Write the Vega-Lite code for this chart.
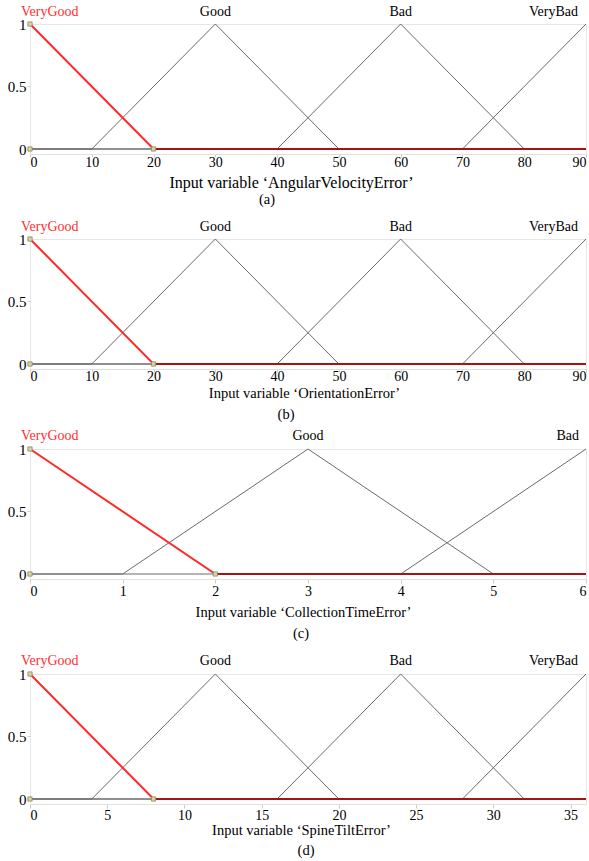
{
  "$schema": "https://vega.github.io/schema/vega-lite/v6.json",
  "padding": {"left": 6, "top": 4, "right": 0, "bottom": 0},
  "background": "white",
  "config": {
    "font": "Liberation Serif",
    "view": {"stroke": "#e6e6e6", "strokeWidth": 1},
    "axis": {"labelFontSize": 14, "titleFontSize": 14.5, "labelColor": "#000", "titleColor": "#000", "titleFontWeight": "normal", "grid": false, "labelFont": "Liberation Serif", "titleFont": "Liberation Serif"},
    "axisY": {"labelFontSize": 15},
    "title": {"font": "Liberation Serif", "fontSize": 14.5, "fontWeight": "normal", "color": "#000", "orient": "bottom", "anchor": "middle", "frame": "group"},
    "text": {"fontSize": 14, "font": "Liberation Serif"}
  },
  "datasets": {
    "mf": [
      {"panel": "a", "mf": "VeryGood", "x": 0, "y": 1}, {"panel": "a", "mf": "VeryGood", "x": 20, "y": 0}, {"panel": "a", "mf": "VeryGood", "x": 90, "y": 0},
      {"panel": "a", "mf": "Good", "x": 0, "y": 0}, {"panel": "a", "mf": "Good", "x": 10, "y": 0}, {"panel": "a", "mf": "Good", "x": 30, "y": 1}, {"panel": "a", "mf": "Good", "x": 50, "y": 0}, {"panel": "a", "mf": "Good", "x": 90, "y": 0},
      {"panel": "a", "mf": "Bad", "x": 0, "y": 0}, {"panel": "a", "mf": "Bad", "x": 40, "y": 0}, {"panel": "a", "mf": "Bad", "x": 60, "y": 1}, {"panel": "a", "mf": "Bad", "x": 80, "y": 0}, {"panel": "a", "mf": "Bad", "x": 90, "y": 0},
      {"panel": "a", "mf": "VeryBad", "x": 0, "y": 0}, {"panel": "a", "mf": "VeryBad", "x": 70, "y": 0}, {"panel": "a", "mf": "VeryBad", "x": 90, "y": 1},
      {"panel": "b", "mf": "VeryGood", "x": 0, "y": 1}, {"panel": "b", "mf": "VeryGood", "x": 20, "y": 0}, {"panel": "b", "mf": "VeryGood", "x": 90, "y": 0},
      {"panel": "b", "mf": "Good", "x": 0, "y": 0}, {"panel": "b", "mf": "Good", "x": 10, "y": 0}, {"panel": "b", "mf": "Good", "x": 30, "y": 1}, {"panel": "b", "mf": "Good", "x": 50, "y": 0}, {"panel": "b", "mf": "Good", "x": 90, "y": 0},
      {"panel": "b", "mf": "Bad", "x": 0, "y": 0}, {"panel": "b", "mf": "Bad", "x": 40, "y": 0}, {"panel": "b", "mf": "Bad", "x": 60, "y": 1}, {"panel": "b", "mf": "Bad", "x": 80, "y": 0}, {"panel": "b", "mf": "Bad", "x": 90, "y": 0},
      {"panel": "b", "mf": "VeryBad", "x": 0, "y": 0}, {"panel": "b", "mf": "VeryBad", "x": 70, "y": 0}, {"panel": "b", "mf": "VeryBad", "x": 90, "y": 1},
      {"panel": "c", "mf": "VeryGood", "x": 0, "y": 1}, {"panel": "c", "mf": "VeryGood", "x": 2, "y": 0}, {"panel": "c", "mf": "VeryGood", "x": 6, "y": 0},
      {"panel": "c", "mf": "Good", "x": 0, "y": 0}, {"panel": "c", "mf": "Good", "x": 1, "y": 0}, {"panel": "c", "mf": "Good", "x": 3, "y": 1}, {"panel": "c", "mf": "Good", "x": 5, "y": 0}, {"panel": "c", "mf": "Good", "x": 6, "y": 0},
      {"panel": "c", "mf": "Bad", "x": 0, "y": 0}, {"panel": "c", "mf": "Bad", "x": 4, "y": 0}, {"panel": "c", "mf": "Bad", "x": 6, "y": 1},
      {"panel": "d", "mf": "VeryGood", "x": 0, "y": 1}, {"panel": "d", "mf": "VeryGood", "x": 8, "y": 0}, {"panel": "d", "mf": "VeryGood", "x": 36, "y": 0},
      {"panel": "d", "mf": "Good", "x": 0, "y": 0}, {"panel": "d", "mf": "Good", "x": 4, "y": 0}, {"panel": "d", "mf": "Good", "x": 12, "y": 1}, {"panel": "d", "mf": "Good", "x": 20, "y": 0}, {"panel": "d", "mf": "Good", "x": 36, "y": 0},
      {"panel": "d", "mf": "Bad", "x": 0, "y": 0}, {"panel": "d", "mf": "Bad", "x": 16, "y": 0}, {"panel": "d", "mf": "Bad", "x": 24, "y": 1}, {"panel": "d", "mf": "Bad", "x": 32, "y": 0}, {"panel": "d", "mf": "Bad", "x": 36, "y": 0},
      {"panel": "d", "mf": "VeryBad", "x": 0, "y": 0}, {"panel": "d", "mf": "VeryBad", "x": 28, "y": 0}, {"panel": "d", "mf": "VeryBad", "x": 36, "y": 1}
    ],
    "labels": [
      {"panel": "a", "mf": "VeryGood", "x": 0, "y": 1}, {"panel": "a", "mf": "Good", "x": 30, "y": 1}, {"panel": "a", "mf": "Bad", "x": 60, "y": 1}, {"panel": "a", "mf": "VeryBad", "x": 90, "y": 1},
      {"panel": "b", "mf": "VeryGood", "x": 0, "y": 1}, {"panel": "b", "mf": "Good", "x": 30, "y": 1}, {"panel": "b", "mf": "Bad", "x": 60, "y": 1}, {"panel": "b", "mf": "VeryBad", "x": 90, "y": 1},
      {"panel": "c", "mf": "VeryGood", "x": 0, "y": 1}, {"panel": "c", "mf": "Good", "x": 3, "y": 1}, {"panel": "c", "mf": "Bad", "x": 6, "y": 1},
      {"panel": "d", "mf": "VeryGood", "x": 0, "y": 1}, {"panel": "d", "mf": "Good", "x": 12, "y": 1}, {"panel": "d", "mf": "Bad", "x": 24, "y": 1}, {"panel": "d", "mf": "VeryBad", "x": 36, "y": 1}
    ],
    "pts": [
      {"panel": "a", "x": 0, "y": 1}, {"panel": "a", "x": 0, "y": 0}, {"panel": "a", "x": 20, "y": 0},
      {"panel": "b", "x": 0, "y": 1}, {"panel": "b", "x": 0, "y": 0}, {"panel": "b", "x": 20, "y": 0},
      {"panel": "c", "x": 0, "y": 1}, {"panel": "c", "x": 0, "y": 0}, {"panel": "c", "x": 2, "y": 0},
      {"panel": "d", "x": 0, "y": 1}, {"panel": "d", "x": 0, "y": 0}, {"panel": "d", "x": 8, "y": 0}
    ]
  },
  "spacing": 6,
  "vconcat": [
    {
      "spacing": 12,
      "vconcat": [
        {
          "width": 556, "height": 130,
          "title": {"text": "(a)", "dx": -41, "offset": 3},
          "encoding": {
            "x": {"field": "x", "type": "quantitative", "scale": {"domain": [0, 90], "nice": false, "zero": false},
              "axis": {"values": [0, 10, 20, 30, 40, 50, 60, 70, 80, 90], "title": "Input variable ‘AngularVelocityError’", "titleFontSize": 16, "titleX": 261, "titleAlign": "center", "titlePadding": 5, "labelPadding": -2, "tickSize": 3, "tickColor": "#cccccc", "domainColor": "#e0e0e0"}},
            "y": {"field": "y", "type": "quantitative", "scale": {"domain": [-0.04, 1], "nice": false, "zero": false},
              "axis": {"values": [0, 0.5, 1], "format": "~g", "title": null, "domain": false, "tickSize": 3, "tickColor": "#d0d0d0", "labelPadding": 1}}
          },
          "layer": [
            {"data": {"name": "mf"}, "transform": [{"filter": "datum.panel == 'a' && datum.mf != 'VeryGood'"}], "mark": {"type": "line", "color": "#6a6a6a", "strokeWidth": 1}, "encoding": {"detail": {"field": "mf"}}},
            {"data": {"name": "mf"}, "transform": [{"filter": "datum.panel == 'a' && datum.mf == 'VeryGood'"}], "mark": {"type": "line", "color": "#ff2a2a", "strokeWidth": 2}},
            {"data": {"name": "mf"}, "transform": [{"filter": "datum.panel == 'a' && datum.mf == 'VeryGood' && datum.y == 0"}], "mark": {"type": "line", "color": "#a01515", "strokeWidth": 2}},
            {"data": {"name": "pts"}, "transform": [{"filter": "datum.panel == 'a'"}], "mark": {"type": "point", "shape": "square", "size": 18, "filled": true, "color": "#d9d3a6", "stroke": "#8c8a5a", "strokeWidth": 0.8, "opacity": 1}},
            {"data": {"name": "labels"}, "transform": [{"filter": "datum.panel == 'a' && datum.x == 0"}], "mark": {"type": "text", "align": "left", "baseline": "alphabetic", "dx": -9, "dy": -8, "color": "#ff3030"}, "encoding": {"text": {"field": "mf"}}},
            {"data": {"name": "labels"}, "transform": [{"filter": "datum.panel == 'a' && datum.x > 0 && datum.x < 90"}], "mark": {"type": "text", "align": "center", "baseline": "alphabetic", "dy": -8, "color": "#000"}, "encoding": {"text": {"field": "mf"}}},
            {"data": {"name": "labels"}, "transform": [{"filter": "datum.panel == 'a' && datum.x == 90"}], "mark": {"type": "text", "align": "right", "baseline": "alphabetic", "dx": -8, "dy": -8, "color": "#000"}, "encoding": {"text": {"field": "mf"}}}
          ]
        },
        {
          "width": 556, "height": 130,
          "title": {"text": "(b)", "dx": -22, "offset": 8},
          "encoding": {
            "x": {"field": "x", "type": "quantitative", "scale": {"domain": [0, 90], "nice": false, "zero": false},
              "axis": {"values": [0, 10, 20, 30, 40, 50, 60, 70, 80, 90], "title": "Input variable ‘OrientationError’", "titleX": 274, "titleAlign": "center", "titlePadding": 3, "labelPadding": -3, "tickSize": 3, "tickColor": "#cccccc", "domainColor": "#e0e0e0"}},
            "y": {"field": "y", "type": "quantitative", "scale": {"domain": [-0.04, 1], "nice": false, "zero": false},
              "axis": {"values": [0, 0.5, 1], "format": "~g", "title": null, "domain": false, "tickSize": 3, "tickColor": "#d0d0d0", "labelPadding": 1}}
          },
          "layer": [
            {"data": {"name": "mf"}, "transform": [{"filter": "datum.panel == 'b' && datum.mf != 'VeryGood'"}], "mark": {"type": "line", "color": "#6a6a6a", "strokeWidth": 1}, "encoding": {"detail": {"field": "mf"}}},
            {"data": {"name": "mf"}, "transform": [{"filter": "datum.panel == 'b' && datum.mf == 'VeryGood'"}], "mark": {"type": "line", "color": "#ff2a2a", "strokeWidth": 2}},
            {"data": {"name": "mf"}, "transform": [{"filter": "datum.panel == 'b' && datum.mf == 'VeryGood' && datum.y == 0"}], "mark": {"type": "line", "color": "#a01515", "strokeWidth": 2}},
            {"data": {"name": "pts"}, "transform": [{"filter": "datum.panel == 'b'"}], "mark": {"type": "point", "shape": "square", "size": 18, "filled": true, "color": "#d9d3a6", "stroke": "#8c8a5a", "strokeWidth": 0.8, "opacity": 1}},
            {"data": {"name": "labels"}, "transform": [{"filter": "datum.panel == 'b' && datum.x == 0"}], "mark": {"type": "text", "align": "left", "baseline": "alphabetic", "dx": -9, "dy": -8, "color": "#ff3030"}, "encoding": {"text": {"field": "mf"}}},
            {"data": {"name": "labels"}, "transform": [{"filter": "datum.panel == 'b' && datum.x > 0 && datum.x < 90"}], "mark": {"type": "text", "align": "center", "baseline": "alphabetic", "dy": -8, "color": "#000"}, "encoding": {"text": {"field": "mf"}}},
            {"data": {"name": "labels"}, "transform": [{"filter": "datum.panel == 'b' && datum.x == 90"}], "mark": {"type": "text", "align": "right", "baseline": "alphabetic", "dx": -8, "dy": -8, "color": "#000"}, "encoding": {"text": {"field": "mf"}}}
          ]
        }
      ]
    },
    {
      "spacing": 12,
      "vconcat": [
        {
          "width": 556, "height": 130,
          "title": {"text": "(c)", "dx": -7, "offset": 8},
          "encoding": {
            "x": {"field": "x", "type": "quantitative", "scale": {"domain": [0, 6], "nice": false, "zero": false},
              "axis": {"values": [0, 1, 2, 3, 4, 5, 6], "title": "Input variable ‘CollectionTimeError’", "titleX": 273, "titleAlign": "center", "titlePadding": 7, "labelPadding": 1, "tickSize": 4, "tickColor": "#cccccc", "domainColor": "#e0e0e0"}},
            "y": {"field": "y", "type": "quantitative", "scale": {"domain": [-0.04, 1], "nice": false, "zero": false},
              "axis": {"values": [0, 0.5, 1], "format": "~g", "title": null, "domain": false, "tickSize": 3, "tickColor": "#d0d0d0", "labelPadding": 1}}
          },
          "layer": [
            {"data": {"name": "mf"}, "transform": [{"filter": "datum.panel == 'c' && datum.mf != 'VeryGood'"}], "mark": {"type": "line", "color": "#6a6a6a", "strokeWidth": 1}, "encoding": {"detail": {"field": "mf"}}},
            {"data": {"name": "mf"}, "transform": [{"filter": "datum.panel == 'c' && datum.mf == 'VeryGood'"}], "mark": {"type": "line", "color": "#ff2a2a", "strokeWidth": 2}},
            {"data": {"name": "mf"}, "transform": [{"filter": "datum.panel == 'c' && datum.mf == 'VeryGood' && datum.y == 0"}], "mark": {"type": "line", "color": "#a01515", "strokeWidth": 2}},
            {"data": {"name": "pts"}, "transform": [{"filter": "datum.panel == 'c'"}], "mark": {"type": "point", "shape": "square", "size": 18, "filled": true, "color": "#d9d3a6", "stroke": "#8c8a5a", "strokeWidth": 0.8, "opacity": 1}},
            {"data": {"name": "labels"}, "transform": [{"filter": "datum.panel == 'c' && datum.x == 0"}], "mark": {"type": "text", "align": "left", "baseline": "alphabetic", "dx": -9, "dy": -9, "color": "#ff3030"}, "encoding": {"text": {"field": "mf"}}},
            {"data": {"name": "labels"}, "transform": [{"filter": "datum.panel == 'c' && datum.x > 0 && datum.x < 6"}], "mark": {"type": "text", "align": "center", "baseline": "alphabetic", "dy": -9, "color": "#000"}, "encoding": {"text": {"field": "mf"}}},
            {"data": {"name": "labels"}, "transform": [{"filter": "datum.panel == 'c' && datum.x == 6"}], "mark": {"type": "text", "align": "right", "baseline": "alphabetic", "dx": -7, "dy": -9, "color": "#000"}, "encoding": {"text": {"field": "mf"}}}
          ]
        },
        {
          "width": 556, "height": 130,
          "title": {"text": "(d)", "dx": -2, "offset": 7},
          "encoding": {
            "x": {"field": "x", "type": "quantitative", "scale": {"domain": [0, 36], "nice": false, "zero": false},
              "axis": {"values": [0, 5, 10, 15, 20, 25, 30, 35], "title": "Input variable ‘SpineTiltError’", "titleX": 271, "titleAlign": "center", "titlePadding": 1, "labelPadding": 0, "tickSize": 4, "tickColor": "#cccccc", "domainColor": "#e0e0e0"}},
            "y": {"field": "y", "type": "quantitative", "scale": {"domain": [-0.04, 1], "nice": false, "zero": false},
              "axis": {"values": [0, 0.5, 1], "format": "~g", "title": null, "domain": false, "tickSize": 3, "tickColor": "#d0d0d0", "labelPadding": 1}}
          },
          "layer": [
            {"data": {"name": "mf"}, "transform": [{"filter": "datum.panel == 'd' && datum.mf != 'VeryGood'"}], "mark": {"type": "line", "color": "#6a6a6a", "strokeWidth": 1}, "encoding": {"detail": {"field": "mf"}}},
            {"data": {"name": "mf"}, "transform": [{"filter": "datum.panel == 'd' && datum.mf == 'VeryGood'"}], "mark": {"type": "line", "color": "#ff2a2a", "strokeWidth": 2}},
            {"data": {"name": "mf"}, "transform": [{"filter": "datum.panel == 'd' && datum.mf == 'VeryGood' && datum.y == 0"}], "mark": {"type": "line", "color": "#a01515", "strokeWidth": 2}},
            {"data": {"name": "pts"}, "transform": [{"filter": "datum.panel == 'd'"}], "mark": {"type": "point", "shape": "square", "size": 18, "filled": true, "color": "#d9d3a6", "stroke": "#8c8a5a", "strokeWidth": 0.8, "opacity": 1}},
            {"data": {"name": "labels"}, "transform": [{"filter": "datum.panel == 'd' && datum.x == 0"}], "mark": {"type": "text", "align": "left", "baseline": "alphabetic", "dx": -9, "dy": -9, "color": "#ff3030"}, "encoding": {"text": {"field": "mf"}}},
            {"data": {"name": "labels"}, "transform": [{"filter": "datum.panel == 'd' && datum.x > 0 && datum.x < 36"}], "mark": {"type": "text", "align": "center", "baseline": "alphabetic", "dy": -9, "color": "#000"}, "encoding": {"text": {"field": "mf"}}},
            {"data": {"name": "labels"}, "transform": [{"filter": "datum.panel == 'd' && datum.x == 36"}], "mark": {"type": "text", "align": "right", "baseline": "alphabetic", "dx": -8, "dy": -9, "color": "#000"}, "encoding": {"text": {"field": "mf"}}}
          ]
        }
      ]
    }
  ]
}
